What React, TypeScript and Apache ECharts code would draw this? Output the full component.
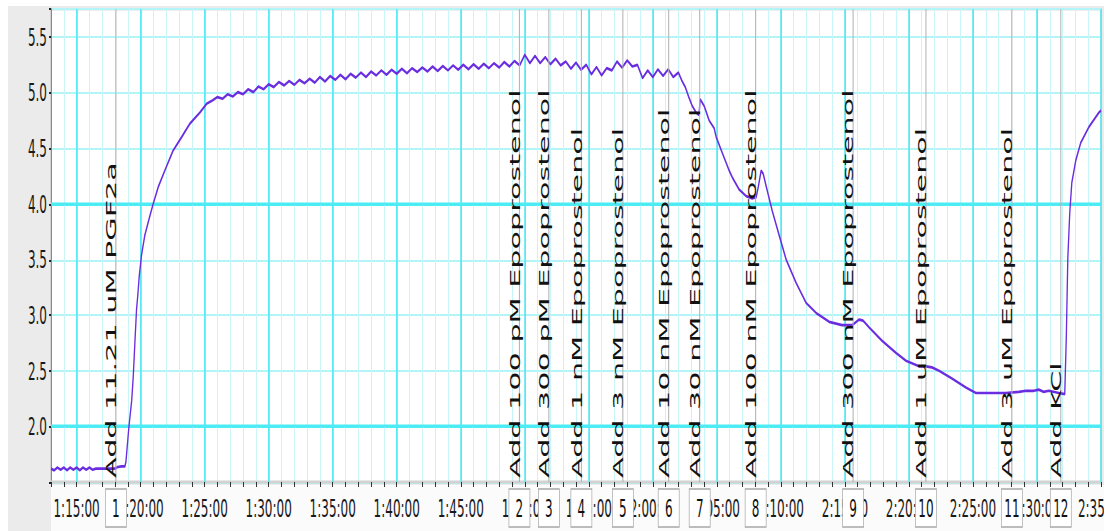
import React, { useEffect, useRef } from 'react';
import * as echarts from 'echarts';

// time axis in minutes since 0:00:00 (73 = 1:13:00, 155 = 2:35:00)
const xMin = 73;
const xMax = 155;
const yMin = 1.5;
const yMax = 5.75;

const xTickLabels = ['1:15:00', '1:20:00', '1:25:00', '1:30:00', '1:35:00', '1:40:00', '1:45:00', '1:50:00', '1:55:00', '2:00:00', '2:05:00', '2:10:00', '2:15:00', '2:20:00', '2:25:00', '2:30:00', '2:35:00'];
const yTickLabels = ['2.0', '2.5', '3.0', '3.5', '4.0', '4.5', '5.0', '5.5'];
const yMajorLines = [2.0, 4.0];

const eventTimes = [78.07, 109.58, 111.88, 114.42, 117.66, 121.24, 123.66, 128.03, 135.64, 141.33, 148.04, 151.86];
const eventNumbers = ['1', '2', '3', '4', '5', '6', '7', '8', '9', '10', '11', '12'];
const eventLabels = [
  'Add 11.21 uM PGF2a',
  'Add 100 pM Epoprostenol',
  'Add 300 pM Epoprostenol',
  'Add 1 nM Epoprostenol',
  'Add 3 nM Epoprostenol',
  'Add 10 nM Epoprostenol',
  'Add 30 nM Epoprostenol',
  'Add 100 nM Epoprostenol',
  'Add 300 nM Epoprostenol',
  'Add 1 uM Epoprostenol',
  'Add 3 uM Epoprostenol',
  'Add KCl',
];

// tension trace [time (min), value]
const trace: [number, number][] = [
  [73.0, 1.62], [73.25, 1.605], [73.5, 1.63], [73.75, 1.61], [74.0, 1.63], [74.25, 1.605], [74.5, 1.63], [74.75, 1.61],
  [75.0, 1.63], [75.25, 1.605], [75.5, 1.63], [75.75, 1.61], [76.0, 1.63], [76.25, 1.61], [76.5, 1.62], [77.0, 1.62],
  [77.5, 1.62], [78.0, 1.62], [78.2, 1.635], [78.5, 1.64], [78.77, 1.64],
  [78.85, 1.68], [79.08, 1.99], [79.3, 2.23], [79.42, 2.44], [79.55, 2.75], [79.68, 3.05], [79.78, 3.18], [79.89, 3.35],
  [80.07, 3.54], [80.33, 3.72], [80.67, 3.87], [80.98, 4.0], [81.37, 4.15], [81.89, 4.3], [82.54, 4.48], [83.2, 4.6],
  [83.84, 4.72], [84.62, 4.82], [85.15, 4.9], [85.6, 4.93],
  [86.0, 4.96], [86.4, 4.945], [86.8, 4.985], [87.2, 4.965], [87.6, 5.005], [88.0, 4.985], [88.4, 5.03], [88.8, 5.005],
  [89.2, 5.055], [89.6, 5.03], [90.0, 5.075], [90.4, 5.05], [90.8, 5.095], [91.2, 5.065], [91.6, 5.105], [92.0, 5.07],
  [92.4, 5.115], [92.8, 5.085], [93.2, 5.125], [93.6, 5.09], [94.0, 5.14], [94.4, 5.1], [94.8, 5.15], [95.2, 5.115],
  [95.6, 5.16], [96.0, 5.12], [96.4, 5.17], [96.8, 5.135], [97.2, 5.18], [97.6, 5.14], [98.0, 5.19], [98.4, 5.155],
  [98.8, 5.2], [99.2, 5.16], [99.6, 5.205], [100.0, 5.17], [100.4, 5.215], [100.8, 5.175], [101.2, 5.22], [101.6, 5.185],
  [102.0, 5.225], [102.4, 5.19], [102.8, 5.235], [103.2, 5.195], [103.6, 5.24], [104.0, 5.2], [104.4, 5.245], [104.8, 5.205],
  [105.2, 5.25], [105.6, 5.21], [106.0, 5.255], [106.4, 5.215], [106.8, 5.26], [107.2, 5.22], [107.6, 5.265], [108.0, 5.225],
  [108.4, 5.275], [108.8, 5.235], [109.2, 5.285], [109.6, 5.245],
  [110.0, 5.34], [110.4, 5.265], [110.8, 5.33], [111.2, 5.265], [111.6, 5.32], [112.0, 5.255], [112.4, 5.305], [112.8, 5.245],
  [113.2, 5.28], [113.6, 5.215], [114.0, 5.27], [114.4, 5.205], [114.8, 5.25], [115.2, 5.165], [115.6, 5.23], [116.0, 5.155],
  [116.4, 5.22], [116.8, 5.2], [117.2, 5.28], [117.6, 5.225], [118.0, 5.29], [118.4, 5.235], [118.8, 5.25], [119.2, 5.13],
  [119.6, 5.2], [120.0, 5.14], [120.4, 5.21], [120.8, 5.15], [121.2, 5.21], [121.6, 5.14], [122.0, 5.18], [122.3, 5.1],
  [122.53, 5.05], [122.84, 4.95], [123.08, 4.88], [123.39, 4.82], [123.6, 4.8], [123.7, 4.94],
  [124.01, 4.88], [124.25, 4.8], [124.4, 4.75], [124.79, 4.68], [124.95, 4.6], [125.42, 4.46], [125.96, 4.3], [126.2, 4.24],
  [126.74, 4.13], [127.29, 4.07], [127.76, 4.05], [128.07, 4.06], [128.23, 4.15], [128.46, 4.3], [128.62, 4.27], [128.85, 4.16],
  [129.32, 3.94], [129.86, 3.72], [130.41, 3.5], [131.19, 3.29], [131.97, 3.11], [132.75, 3.02], [133.77, 2.94], [134.78, 2.91],
  [135.56, 2.91], [136.11, 2.96], [136.42, 2.95], [136.89, 2.89], [137.9, 2.77], [139.0, 2.66], [139.77, 2.59], [140.79, 2.54],
  [141.33, 2.54], [141.8, 2.53], [142.35, 2.5], [143.36, 2.43], [144.45, 2.35], [145.23, 2.3], [147.57, 2.3], [148.59, 2.31],
  [149.13, 2.32], [149.76, 2.32], [150.14, 2.33], [150.53, 2.31], [150.93, 2.32], [151.71, 2.3], [152.17, 2.29],
  [152.29, 2.8], [152.41, 3.52], [152.56, 3.92], [152.72, 4.19], [153.03, 4.39], [153.42, 4.55], [154.05, 4.69], [154.83, 4.82],
  [155.0, 4.84],
];

const traceColor = '#6a2de0';
const xGridColors = ['#c9f5f8', '#c9f5f8', '#55e8f2', '#c9f5f8', '#c9f5f8'];
const yGridColors = ['#b3f4f8', '#4cecf4', '#b3f4f8', '#b3f4f8', '#b3f4f8', '#4cecf4', '#b3f4f8', '#b3f4f8', '#b3f4f8', '#b3f4f8'];

const toMinutes = (s: string) => {
  const [h, m] = s.split(':').map(Number);
  return h * 60 + m;
};

const xLabel = (v: number) => {
  const found = xTickLabels.find((s) => Math.abs(toMinutes(s) - v) < 1e-6);
  return found || '';
};
const yLabel = (v: number) => {
  const found = yTickLabels.find((s) => Math.abs(parseFloat(s) - v) < 1e-6);
  return found || '';
};

export default function App() {
  const ref = useRef<HTMLDivElement>(null);
  useEffect(() => {
    if (!ref.current) return;
    const chart = echarts.init(ref.current, undefined, { renderer: 'svg' });
    const font = 'DejaVu Sans';
    chart.setOption({
      animation: false,
      backgroundColor: '#ebebeb',
      graphic: [
        {
          type: 'rect',
          z: -10,
          silent: true,
          shape: { x: 43, y: 239.5, width: 1053, height: 30 },
          style: { fill: '#fbfbfb' },
        },
      ],
      grid: {
        left: 43,
        right: 3,
        top: 1.6,
        bottom: 25,
        show: true,
        backgroundColor: '#ffffff',
        borderColor: '#b8b8b8',
        borderWidth: 1,
        containLabel: false,
        outerBoundsMode: 'none',
      },
      xAxis: {
        type: 'value',
        min: xMin,
        max: xMax,
        interval: 1,
        axisLine: { show: true, onZero: false, lineStyle: { color: '#d2d2d2', width: 1.5 } },
        axisTick: { show: true, length: 2.5, lineStyle: { color: '#333', width: 1 } },
        axisLabel: { margin: 7, fontSize: 12, fontFamily: font, color: '#1a1a1a', formatter: xLabel },
        splitLine: { show: true, lineStyle: { color: xGridColors, width: 1 } },
      },
      yAxis: {
        type: 'value',
        min: yMin,
        max: yMax,
        interval: 0.5,
        axisLine: { show: true, onZero: false, lineStyle: { color: '#8a8a8a', width: 1 } },
        axisTick: { show: true, length: 2, lineStyle: { color: '#222', width: 1 } },
        axisLabel: { margin: 4, fontSize: 12, fontFamily: font, color: '#1a1a1a', formatter: yLabel },
        splitLine: { show: true, lineStyle: { color: yGridColors, width: 1 } },
      },
      series: [
        {
          type: 'line',
          data: [],
          silent: true,
          z: 1,
          markLine: {
            silent: true,
            z: 1,
            symbol: 'none',
            label: { show: false },
            animation: false,
            data: [
              ...xTickLabels.map((s) => ({ xAxis: toMinutes(s), lineStyle: { color: '#5ae9f2', width: 1.6, type: 'solid' } })),
              ...yMajorLines.map((v) => ({ yAxis: v, lineStyle: { color: '#4cecf4', width: 1.5, type: 'solid' } })),
            ],
          },
        },
        {
          type: 'line',
          data: trace,
          showSymbol: false,
          symbol: 'none',
          silent: true,
          z: 2,
          lineStyle: { color: traceColor, width: 1.35 },
        },
        {
          type: 'custom',
          z: 6,
          silent: true,
          clip: false,
          data: eventTimes.map((t) => [t, yMin]),
          renderItem: (params: any, api: any) => {
            const cs = params.coordSys;
            const x = api.coord([api.value(0), yMin])[0];
            const bottom = cs.y + cs.height;
            const i = params.dataIndex;
            return {
              type: 'group',
              children: [
                {
                  type: 'line',
                  shape: { x1: x, y1: cs.y, x2: x, y2: bottom },
                  style: { stroke: '#b0b0b0', lineWidth: 1 },
                },
                {
                  type: 'text',
                  x: x + 2.5,
                  y: bottom - 2,
                  rotation: Math.PI / 2,
                  scaleX: 1.08,
                  style: {
                    text: eventLabels[i],
                    fill: '#111',
                    fontSize: 14,
                    fontFamily: font,
                    align: 'left',
                    verticalAlign: 'bottom',
                  },
                },
                {
                  type: 'rect',
                  shape: { x: x - 10.5, y: bottom + 3.5, width: 21, height: 19 },
                  style: { fill: '#ffffff', stroke: '#a8a8a8', lineWidth: 0.7 },
                },
                {
                  type: 'text',
                  x: x,
                  y: bottom + 13,
                  style: {
                    text: eventNumbers[i],
                    fill: '#111',
                    fontSize: 12,
                    fontFamily: font,
                    align: 'center',
                    verticalAlign: 'middle',
                  },
                },
              ],
            };
          },
        },
      ],
    });
    return () => chart.dispose();
  }, []);

  return (
    <div
      style={{
        position: 'fixed',
        left: 8,
        top: 6,
        width: 1096,
        height: 525,
        overflow: 'hidden',
      }}
    >
      <div
        ref={ref}
        style={{
          position: 'absolute',
          left: 0,
          top: 0,
          width: 1096,
          height: 263,
          transform: 'scaleY(2)',
          transformOrigin: '0 0',
        }}
      />
    </div>
  );
}
